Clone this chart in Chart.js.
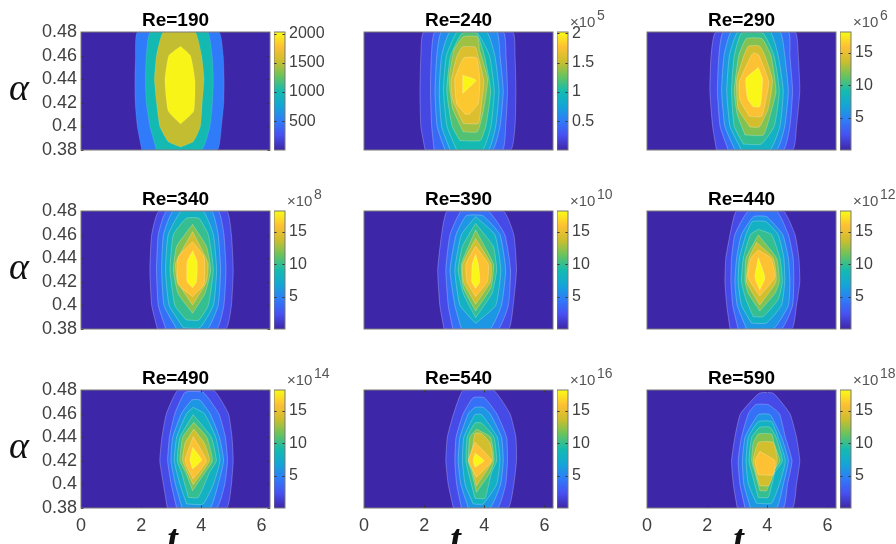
<!DOCTYPE html>
<html>
<head>
<meta charset="utf-8">
<script src="https://cdn.jsdelivr.net/npm/chart.js@4"></script>
<style>
  html, body { margin: 0; padding: 0; background: #fff; overflow: hidden; width: 896px; height: 544px; }
  canvas { position: absolute; }
</style>
</head>
<body>
<script>
// panel values
const reynolds = [190, 240, 290, 340, 390, 440, 490, 540, 590];
const exponents = [null, 5, 6, 8, 10, 12, 14, 16, 18];
const alphaTicks = [0.38, 0.4, 0.42, 0.44, 0.46, 0.48];
const tTicks = [0, 2, 4, 6];
const levels190 = [500, 1000, 1500, 2000];
const levels240 = [0.2, 0.4, 0.6, 0.8, 1, 1.2, 1.4, 1.6, 1.8, 2];
const levelsHigh = [2, 4, 6, 8, 10, 12, 14, 16, 18];
const cbTicks190 = [500, 1000, 1500, 2000];
const cbTicks240 = [0.5, 1, 1.5, 2];
const cbTicksHigh = [5, 10, 15];
const cbRange190 = [6, 2028];
const cbRange240 = [0.01, 2.02];
const cbRangeHigh = [0.1, 18.2];
const backgroundRows = [[0.38, 0, 6.2832], [0.48, 0, 6.2832]];

// contours: each level is a list of [alpha, t left, t right]
const re190 = [
  [[.38,2.02,4.53],[.40,1.87,4.67],[.42,1.80,4.75],[.44,1.79,4.76],[.46,1.81,4.73],[.48,1.88,4.58]],
  [[.38,2.51,4.01],[.40,2.29,4.29],[.42,2.17,4.37],[.44,2.14,4.40],[.46,2.17,4.36],[.48,2.31,4.20]],
  [[.3825,3.31,3.31],[.387,2.90,3.73],[.40,2.62,3.97],[.42,2.51,4.03],[.44,2.44,4.09],[.46,2.51,4.01],[.48,2.74,3.79]],
  [[.402,3.31,3.31],[.413,2.90,3.75],[.439,2.79,3.79],[.46,2.92,3.64],[.468,3.31,3.31]]
];
const re240 = [
  [[.38,2.03,4.87],[.40,1.89,5.02],[.43,1.86,5.05],[.46,1.89,5.02],[.48,1.99,4.94]],
  [[.38,2.33,4.60],[.40,2.25,4.71],[.43,2.21,4.77],[.46,2.24,4.72],[.48,2.36,4.63]],
  [[.38,2.69,4.27],[.40,2.43,4.52],[.43,2.36,4.63],[.46,2.42,4.52],[.48,2.58,4.41]],
  [[.38,2.86,4.13],[.40,2.58,4.38],[.43,2.50,4.49],[.46,2.58,4.35],[.48,2.86,4.08]],
  [[.38,3.08,3.94],[.40,2.76,4.22],[.43,2.64,4.33],[.46,2.74,4.17],[.48,3.10,3.74]],
  [[.388,3.19,3.86],[.40,2.93,4.05],[.43,2.75,4.21],[.46,2.88,4.00],[.479,3.26,3.74]],
  [[.3955,3.30,3.77],[.415,2.95,3.98],[.44,2.83,4.11],[.465,3.00,3.84],[.476,3.30,3.77]],
  [[.4025,3.30,3.80],[.4223,2.95,3.92],[.4377,2.89,3.99],[.459,3.08,3.80],[.4673,3.27,3.70]],
  [[.4104,3.36,3.50],[.4194,3.08,3.80],[.44,3.02,3.85],[.458,3.32,3.74]],
  [[.4279,3.28,3.28],[.4392,3.28,3.72],[.4434,3.28,3.28]]
];
const re290 = [
  [[.38,2.31,4.84],[.40,2.18,4.97],[.43,2.09,5.08],[.46,2.13,5.03],[.48,2.29,4.92]],
  [[.38,2.70,4.53],[.40,2.43,4.75],[.43,2.34,4.84],[.46,2.39,4.75],[.48,2.54,4.70]],
  [[.38,2.92,4.31],[.40,2.59,4.58],[.43,2.48,4.70],[.46,2.56,4.58],[.48,2.81,4.42]],
  [[.38,3.14,4.09],[.40,2.76,4.42],[.43,2.65,4.53],[.46,2.74,4.36],[.48,3.02,4.10]],
  [[.385,3.20,3.80],[.40,2.90,4.23],[.43,2.81,4.40],[.46,2.90,4.22],[.479,3.14,3.86]],
  [[.3927,3.26,3.87],[.41,3.00,4.10],[.43,2.90,4.29],[.46,3.05,4.12],[.4744,3.30,3.82]],
  [[.3995,3.42,3.73],[.415,3.03,4.03],[.439,2.98,4.17],[.46,3.22,3.92],[.468,3.37,3.75]],
  [[.4085,3.40,3.81],[.4223,3.09,3.95],[.4377,3.07,4.05],[.4603,3.47,3.72],[.4625,3.55,3.55]],
  [[.4166,3.53,3.75],[.4237,3.34,3.80],[.4406,3.29,3.84],[.4499,3.70,3.70]]
];
const re340 = [
  [[.38,2.54,4.81],[.40,2.35,5.00],[.43,2.29,5.06],[.46,2.35,5.00],[.48,2.60,4.84]],
  [[.38,2.82,4.51],[.40,2.57,4.75],[.43,2.51,4.82],[.46,2.57,4.75],[.48,2.85,4.56]],
  [[.38,3.18,4.20],[.40,2.76,4.56],[.43,2.68,4.64],[.46,2.74,4.56],[.48,3.07,4.34]],
  [[.381,3.40,3.95],[.40,2.93,4.40],[.43,2.81,4.51],[.46,2.90,4.40],[.48,3.34,4.06]],
  [[.3876,3.50,3.92],[.40,3.12,4.23],[.43,2.96,4.40],[.46,3.07,4.23],[.4738,3.50,3.92]],
  [[.3933,3.71,3.71],[.41,3.23,4.12],[.43,3.07,4.31],[.45,3.18,4.17],[.4687,3.71,3.71]],
  [[.4003,3.71,3.71],[.42,3.21,4.17],[.436,3.15,4.22],[.4625,3.71,3.71]],
  [[.4074,3.71,3.71],[.418,3.23,4.09],[.441,3.23,4.09],[.454,3.71,3.71]],
  [[.415,3.71,3.71],[.42,3.53,3.84],[.437,3.53,3.86],[.4464,3.71,3.71]]
];
const re390 = [
  [[.38,2.66,4.80],[.40,2.52,4.96],[.43,2.45,5.07],[.46,2.58,4.98],[.48,2.77,4.63]],
  [[.38,2.95,4.46],[.40,2.80,4.80],[.43,2.72,4.87],[.46,2.86,4.68],[.48,3.24,4.13]],
  [[.38,3.24,4.19],[.40,3.02,4.57],[.43,2.86,4.71],[.46,3.06,4.52],[.476,3.40,3.95]],
  [[.3848,3.71,3.71],[.40,3.19,4.38],[.43,3.02,4.55],[.46,3.24,4.35],[.4752,3.71,3.71]],
  [[.3896,3.71,3.71],[.41,3.30,4.25],[.43,3.13,4.41],[.45,3.27,4.30],[.4695,3.71,3.71]],
  [[.3953,3.71,3.71],[.415,3.30,4.22],[.435,3.24,4.30],[.4639,3.71,3.71]],
  [[.4009,3.71,3.71],[.42,3.30,4.20],[.435,3.28,4.22],[.4568,3.71,3.71]],
  [[.4074,3.71,3.71],[.42,3.42,4.10],[.435,3.39,4.13],[.4503,3.71,3.71]],
  [[.4145,3.71,3.71],[.42,3.58,3.85],[.435,3.60,3.80],[.4433,3.71,3.71]]
];
const re440 = [
  [[.38,2.76,4.81],[.40,2.65,4.97],[.42,2.59,5.08],[.44,2.62,5.05],[.46,2.76,4.92],[.48,2.98,4.53]],
  [[.38,3.03,4.47],[.40,2.85,4.84],[.42,2.79,4.88],[.44,2.81,4.86],[.46,2.92,4.70],[.48,3.37,4.31]],
  [[.38,3.31,4.20],[.40,3.00,4.70],[.42,2.92,4.75],[.44,2.98,4.70],[.46,3.14,4.51],[.4752,3.54,3.98]],
  [[.385,3.47,3.97],[.40,3.14,4.47],[.42,3.03,4.58],[.44,3.07,4.55],[.46,3.29,4.36],[.471,3.50,3.95]],
  [[.3905,3.53,3.86],[.405,3.29,4.36],[.42,3.14,4.50],[.44,3.20,4.42],[.46,3.44,4.14],[.4645,3.70,3.70]],
  [[.3953,3.75,3.75],[.41,3.37,4.25],[.42,3.26,4.40],[.44,3.29,4.31],[.4597,3.70,3.70]],
  [[.4003,3.75,3.75],[.42,3.31,4.29],[.44,3.39,4.20],[.4534,3.64,3.64]],
  [[.4078,3.75,3.75],[.424,3.35,4.25],[.44,3.45,4.12],[.4469,3.70,3.70]],
  [[.4131,3.75,3.75],[.4235,3.59,3.92],[.4405,3.70,3.70]]
];
const re490 = [
  [[.38,2.87,4.84],[.40,2.74,5.00],[.42,2.62,5.06],[.44,2.69,5.02],[.46,2.84,4.90],[.48,3.23,4.40]],
  [[.38,3.18,4.51],[.40,3.00,4.78],[.42,2.88,4.87],[.44,2.94,4.80],[.46,3.12,4.58],[.478,3.46,4.06]],
  [[.38,3.36,4.29],[.40,3.14,4.56],[.42,2.99,4.74],[.44,3.05,4.60],[.46,3.34,4.29],[.4715,3.68,3.95]],
  [[.3834,3.51,4.06],[.40,3.29,4.40],[.42,3.10,4.62],[.44,3.18,4.48],[.46,3.51,4.10],[.4653,3.73,3.73]],
  [[.389,3.57,3.90],[.41,3.34,4.27],[.42,3.20,4.50],[.44,3.29,4.33],[.4591,3.73,3.73]],
  [[.3947,3.71,3.71],[.41,3.48,4.12],[.42,3.29,4.37],[.44,3.38,4.18],[.4526,3.75,3.75]],
  [[.3998,3.73,3.73],[.42,3.38,4.27],[.435,3.46,4.10],[.4469,3.75,3.75]],
  [[.4046,3.73,3.73],[.42,3.46,4.17],[.4405,3.73,3.73]],
  [[.4131,3.71,3.71],[.4207,3.62,4.01],[.4314,3.71,3.71]]
];
const re540 = [
  [[.38,2.97,4.79],[.40,2.80,4.98],[.42,2.72,5.07],[.44,2.77,5.05],[.46,2.98,4.85],[.48,3.30,4.30]],
  [[.38,3.24,4.44],[.40,3.08,4.71],[.42,3.02,4.77],[.44,3.06,4.74],[.46,3.30,4.41],[.4735,3.63,4.00]],
  [[.38,3.47,4.19],[.40,3.22,4.54],[.42,3.13,4.63],[.44,3.19,4.57],[.46,3.47,4.19],[.4653,3.69,3.96]],
  [[.3834,3.63,3.96],[.40,3.36,4.41],[.42,3.27,4.52],[.44,3.32,4.43],[.4591,3.69,3.91]],
  [[.3882,3.69,4.02],[.41,3.47,4.24],[.42,3.39,4.41],[.44,3.43,4.32],[.452,3.69,3.91]],
  [[.3933,3.74,3.74],[.41,3.58,4.19],[.42,3.47,4.32],[.44,3.52,4.21],[.4469,3.74,3.74]],
  [[.3989,3.74,3.74],[.42,3.54,4.27],[.435,3.63,4.19],[.4433,3.69,3.90]],
  [[.406,3.74,3.74],[.4201,3.47,4.24],[.4357,3.69,3.69]],
  [[.4145,3.69,3.69],[.4201,3.63,3.99],[.4263,3.69,3.69]]
];
const re590 = [
  [[.38,3.00,4.83],[.40,2.87,4.97],[.42,2.81,5.08],[.44,2.92,4.97],[.46,3.11,4.75],[.4772,3.73,4.20]],
  [[.38,3.26,4.53],[.40,3.09,4.67],[.42,3.03,4.82],[.44,3.14,4.60],[.46,3.37,4.40],[.4676,3.61,4.03]],
  [[.38,3.44,4.31],[.40,3.22,4.53],[.42,3.17,4.70],[.44,3.26,4.47],[.4591,3.70,4.09]],
  [[.384,3.64,4.14],[.40,3.37,4.40],[.42,3.29,4.60],[.44,3.37,4.36],[.4532,3.70,4.14]],
  [[.389,3.70,4.03],[.41,3.48,4.25],[.42,3.39,4.50],[.44,3.48,4.29],[.4484,3.75,4.09]],
  [[.3947,3.75,3.98],[.41,3.59,4.17],[.42,3.48,4.42],[.435,3.53,4.22],[.4427,3.70,4.14]],
  [[.3989,3.75,4.05],[.42,3.53,4.33],[.4356,3.70,4.20]],
  [[.4082,3.70,4.20],[.4201,3.59,4.25],[.428,3.75,3.75]]
];

const contours = [re190, re240, re290, re340, re390, re440, re490, re540, re590];

// parula-like colormap
const parulaStops = ['#3e26a8', '#4750f1', '#2f7cf9', '#13a6d6', '#14bbaf', '#68c35e', '#cbbe2d', '#fdc034', '#f9fb15'];

const plotLefts = [81, 364, 647];
const plotTops = [32, 211, 390];
const plotWidth = 189;
const plotHeight = 118;
const barLefts = [274, 557, 840];
const boxColor = '#787878';
const tickColor = '#333333';
const textColor = '#404040';

function hexToRgb(h) {
  return [1, 3, 5].map(i => parseInt(h.substr(i, 2), 16));
}

function parula(f) {
  const p = Math.max(0, Math.min(1, f)) * (parulaStops.length - 1);
  const i = Math.min(Math.floor(p), parulaStops.length - 2);
  const a = hexToRgb(parulaStops[i]);
  const b = hexToRgb(parulaStops[i + 1]);
  const c = a.map((v, k) => Math.round(v + (b[k] - v) * (p - i)));
  return 'rgb(' + c.join(',') + ')';
}

// left side going up, right side coming back down
function rowsToPoints(rows) {
  const pts = rows.map(r => ({ x: r[1], y: r[0] }));
  for (let i = rows.length - 1; i >= 0; i--) {
    pts.push({ x: rows[i][2], y: rows[i][0] });
  }
  pts.push({ x: rows[0][1], y: rows[0][0] });
  return pts;
}

function levelDataset(rows, color, order, edge, tension) {
  return {
    data: rowsToPoints(rows),
    showLine: true,
    fill: 'shape',
    tension: tension,
    pointRadius: 0,
    backgroundColor: color,
    borderColor: edge,
    borderWidth: 0.7,
    order: order
  };
}

// drop the label overhang so every plot keeps the same box
function noOverhang(s) {
  s.paddingLeft = 0;
  s.paddingRight = 0;
  s.paddingTop = 0;
  s.paddingBottom = 0;
}

// box and inward ticks, from the scales
const boxPlugin = {
  id: 'box',
  afterDatasetsDraw(chart) {
    const { ctx, chartArea: a } = chart;
    const o = chart.options.plugins.box;
    ctx.save();
    ctx.lineWidth = 1;
    ctx.strokeStyle = tickColor;
    ctx.beginPath();
    if (o.yTicks) {
      chart.scales.y.ticks.forEach(t => {
        const y = Math.round(chart.scales.y.getPixelForValue(t.value)) + 0.5;
        ctx.moveTo(a.left, y); ctx.lineTo(a.left + 2.5, y);
        ctx.moveTo(a.right, y); ctx.lineTo(a.right - 2.5, y);
      });
    }
    if (o.xTicks) {
      chart.scales.x.ticks.forEach(t => {
        const x = Math.round(chart.scales.x.getPixelForValue(t.value)) + 0.5;
        ctx.moveTo(x, a.bottom); ctx.lineTo(x, a.bottom - 2.5);
        ctx.moveTo(x, a.top); ctx.lineTo(x, a.top + 2.5);
      });
    }
    ctx.stroke();
    ctx.strokeStyle = boxColor;
    ctx.strokeRect(a.left, a.top, a.right - a.left, a.bottom - a.top);
    ctx.restore();
  }
};

// upright alpha and the t under the bottom row
const axisNamePlugin = {
  id: 'axisName',
  afterDraw(chart) {
    const o = chart.options.plugins.axisName;
    const { ctx, chartArea: a } = chart;
    ctx.save();
    ctx.fillStyle = '#111';
    ctx.textAlign = 'center';
    ctx.textBaseline = 'alphabetic';
    ctx.font = 'italic 38px "Liberation Serif"';
    if (o.alpha) ctx.fillText('α', 19, (a.top + a.bottom) / 2 + 9);
    ctx.font = 'italic bold 38px "Liberation Serif"';
    if (o.t) ctx.fillText('t', (a.left + a.right) / 2 - 3, a.bottom + 43);
    ctx.restore();
  }
};

// the x10^n note over a colorbar
const exponentPlugin = {
  id: 'exponent',
  afterDraw(chart) {
    const e = chart.options.plugins.exponent.value;
    if (e === null) return;
    const { ctx, chartArea: a } = chart;
    ctx.save();
    ctx.fillStyle = '#555';
    ctx.font = '15px "Liberation Sans"';
    ctx.textBaseline = 'alphabetic';
    const x = a.right + 2;
    ctx.fillText('×10', x, a.top - 5.5);
    ctx.font = '14px "Liberation Sans"';
    ctx.fillText(String(e), x + 27, a.top - 12);
    ctx.restore();
  }
};

function addCanvas(left, top, width, height) {
  const c = document.createElement('canvas');
  c.style.left = left + 'px';
  c.style.top = top + 'px';
  c.style.width = width + 'px';
  c.style.height = height + 'px';
  c.width = width;
  c.height = height;
  document.body.appendChild(c);
  return c;
}

function drawPanel(i) {
  const col = i % 3;
  const row = Math.floor(i / 3);
  const showY = col === 0;
  const showX = row === 2;
  const levels = i === 0 ? levels190 : i === 1 ? levels240 : levelsHigh;
  const top = i === 0 ? cbRange190[1] : i === 1 ? cbRange240[1] : cbRangeHigh[1];
  const edge = i === 0 ? 'rgba(255,255,255,0.15)' : 'rgba(255,255,255,0.35)';
  const n = levels.length;
  const datasets = [levelDataset(backgroundRows, parula(0), n + 1, 'rgba(0,0,0,0)', 0)];
  contours[i].forEach((rows, k) => {
    datasets.push(levelDataset(rows, parula(levels[k] / top), n - k, edge, 0.15));
  });

  const canvas = addCanvas(plotLefts[col] - 81, plotTops[row] - 21, 81 + plotWidth + 2, 21 + plotHeight + 50);
  new Chart(canvas, {
    type: 'scatter',
    data: { datasets: datasets },
    options: {
      responsive: false,
      animation: false,
      devicePixelRatio: 1,
      layout: { autoPadding: false, padding: { left: 0, right: 2, top: 0, bottom: 8 } },
      plugins: {
        legend: { display: false },
        tooltip: { enabled: false },
        title: {
          display: true,
          fullSize: false,
          text: 'Re=' + reynolds[i],
          color: '#000',
          font: { family: '"Liberation Sans"', size: 19, weight: 'bold', lineHeight: 1 },
          padding: { top: 0, bottom: 2 }
        },
        box: { xTicks: showX, yTicks: showY },
        axisName: { alpha: showY, t: showX }
      },
      scales: {
        x: {
          type: 'linear',
          min: 0,
          max: 6.2832,
          grid: { display: false, drawTicks: false },
          border: { display: false },
          afterBuildTicks(s) { s.ticks = tTicks.map(v => ({ value: v })); },
          afterFit(s) { s.height = 42; noOverhang(s); },
          ticks: {
            display: showX,
            autoSkip: false,
            padding: 7,
            maxRotation: 0,
            color: textColor,
            font: { family: '"Liberation Sans"', size: 18 },
            callback: v => String(v)
          }
        },
        y: {
          type: 'linear',
          min: 0.38,
          max: 0.48,
          grid: { display: false, drawTicks: false },
          border: { display: false },
          afterBuildTicks(s) { s.ticks = alphaTicks.map(v => ({ value: v })); },
          afterFit(s) { s.width = 81; noOverhang(s); },
          ticks: {
            display: showY,
            autoSkip: false,
            padding: 4,
            color: textColor,
            font: { family: '"Liberation Sans"', size: 18 },
            callback: v => String(v)
          }
        }
      }
    },
    plugins: [boxPlugin, axisNamePlugin]
  });
}

function drawColorbar(i) {
  const col = i % 3;
  const row = Math.floor(i / 3);
  const range = i === 0 ? cbRange190 : i === 1 ? cbRange240 : cbRangeHigh;
  const tickValues = i === 0 ? cbTicks190 : i === 1 ? cbTicks240 : cbTicksHigh;
  const canvas = addCanvas(barLefts[col], plotTops[row] - 26, 56, 26 + plotHeight + 10);
  new Chart(canvas, {
    type: 'bar',
    data: {
      labels: [''],
      datasets: [{
        data: [range],
        barPercentage: 1,
        categoryPercentage: 1,
        backgroundColor(ctx) {
          const a = ctx.chart.chartArea;
          if (!a) return parula(0);
          const g = ctx.chart.ctx.createLinearGradient(0, a.bottom, 0, a.top);
          parulaStops.forEach((c, k) => g.addColorStop(k / (parulaStops.length - 1), c));
          return g;
        }
      }]
    },
    options: {
      responsive: false,
      animation: false,
      devicePixelRatio: 1,
      layout: { autoPadding: false, padding: { left: 0, right: 0, top: 26, bottom: 10 } },
      plugins: {
        legend: { display: false },
        tooltip: { enabled: false },
        box: { xTicks: false, yTicks: true },
        exponent: { value: exponents[i] }
      },
      scales: {
        x: { display: false },
        y: {
          position: 'right',
          min: range[0],
          max: range[1],
          grid: { display: false, drawTicks: false },
          border: { display: false },
          afterBuildTicks(s) { s.ticks = tickValues.map(v => ({ value: v })); },
          afterFit(s) { s.width = 45; noOverhang(s); },
          ticks: {
            autoSkip: false,
            padding: 4,
            color: textColor,
            font: { family: '"Liberation Sans"', size: 16 },
            callback: v => String(v)
          }
        }
      }
    },
    plugins: [boxPlugin, exponentPlugin]
  });
}

reynolds.forEach((re, i) => {
  drawPanel(i);
  drawColorbar(i);
});
</script>
</body>
</html>
